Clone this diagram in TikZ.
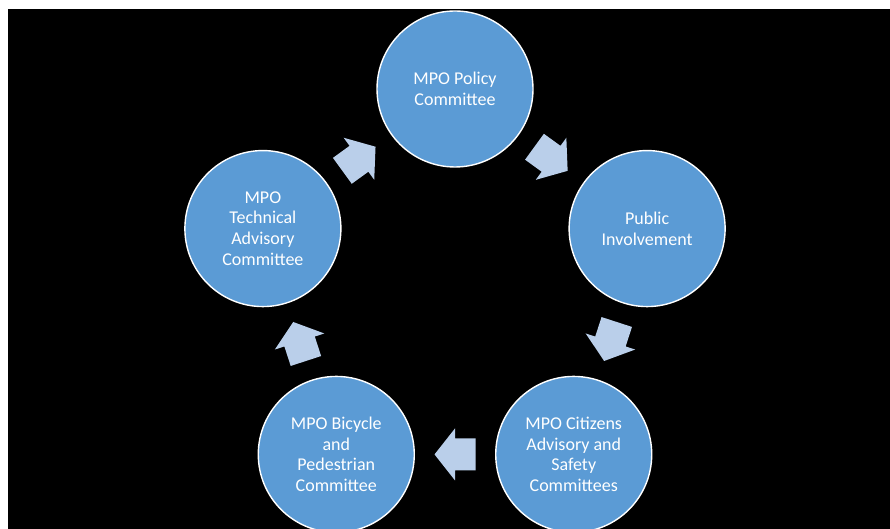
\documentclass[tikz,border=0pt]{standalone}
\usepackage{fontspec}
\setmainfont{Carlito}
\usetikzlibrary{calc}
\definecolor{circblue}{HTML}{5B9BD5}
\definecolor{arrblue}{HTML}{BACFEA}
\tikzset{
  stage/.style={circle, fill=circblue, draw=white, line width=1.4pt,
    minimum size=156pt, inner sep=0pt, text=white, align=center,
    font=\fontsize{18pt}{20.7pt}\selectfont},
  cyclearrow/.pic={
    \fill[arrblue] (-20.5,-16) -- (0,-16) -- (0,-26) -- (20.5,0) -- (0,26) -- (0,16) -- (-20.5,16) -- cycle;
  }
}
\begin{document}
\begin{tikzpicture}[x=1pt,y=1pt]
\useasboundingbox (0,0) rectangle (890,529);
\clip (0,0) rectangle (890,529);
\fill[white] (0,0) rectangle (890,529);
\fill[black] (8,0) rectangle (890,520);
\coordinate (C) at (455,238);
\node[stage] (policy) at ($(C)+(90:202)$) {MPO Policy\\Committee};
\node[stage] (public) at ($(C)+(18:202)$) {Public\\Involvement};
\node[stage] (citizens) at ($(C)+(-54:202)$) {MPO Citizens\\Advisory and\\Safety\\Committees};
\node[stage] (bicycle) at ($(C)+(-126:202)$) {MPO Bicycle\\and\\Pedestrian\\Committee};
\node[stage] (technical) at ($(C)+(162:202)$) {MPO\\Technical\\Advisory\\Committee};
\pic[rotate=-36] at ($(policy)!0.5!(public)$) {cyclearrow};
\pic[rotate=-108] at ($(public)!0.5!(citizens)$) {cyclearrow};
\pic[rotate=180] at ($(citizens)!0.5!(bicycle)$) {cyclearrow};
\pic[rotate=108] at ($(bicycle)!0.5!(technical)$) {cyclearrow};
\pic[rotate=36] at ($(technical)!0.5!(policy)$) {cyclearrow};
\end{tikzpicture}
\end{document}
